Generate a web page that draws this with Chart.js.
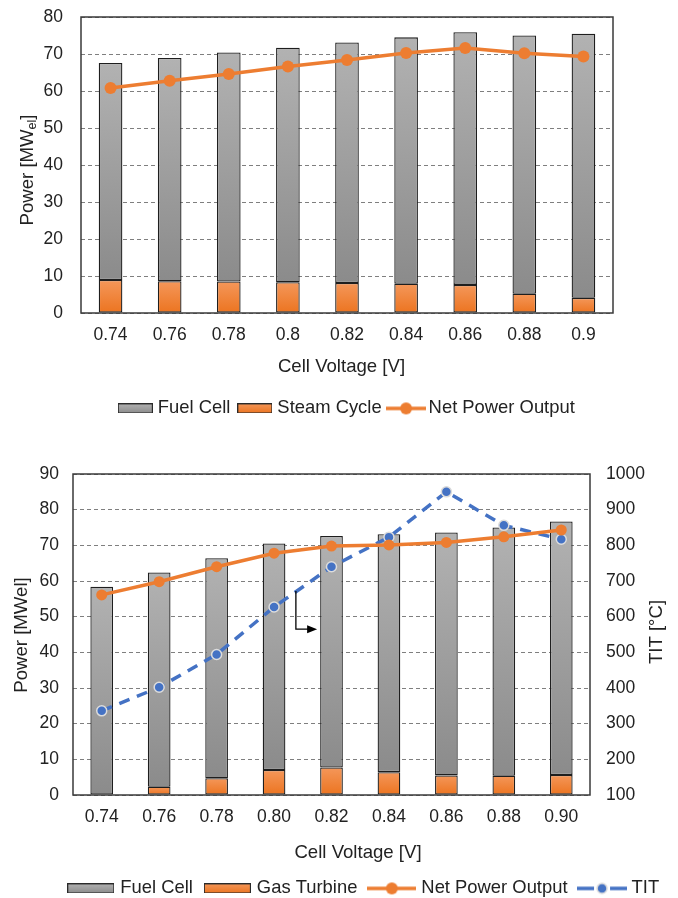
<!DOCTYPE html>
<html lang="en">
  <head>
    <meta charset="UTF-8" />
    <title>Power vs Cell Voltage</title>
    <script src="https://cdn.jsdelivr.net/npm/chart.js"></script>
    <style>
      body {
        margin: 0;
        background: #fff;
        width: 678px;
        height: 898px;
        position: relative;
        overflow: hidden;
      }
      .graph {
        position: absolute;
        left: 0;
        width: 678px;
      }
      #graphTop { top: 0; height: 430px; }
      #graphBottom { top: 455px; height: 443px; }
    </style>
  </head>
  <body>
    <div class="graph" id="graphTop"><canvas id="chartTop" width="678" height="430"></canvas></div>
    <div class="graph" id="graphBottom"><canvas id="chartBottom" width="678" height="443"></canvas></div>
    <script>
      // top chart: fuel cell + steam cycle
      const voltageTop = ["0.74", "0.76", "0.78", "0.8", "0.82", "0.84", "0.86", "0.88", "0.9"];
      const fuelCellTop = [58.7, 60.3, 61.9, 63.4, 65.0, 66.6, 68.3, 69.8, 71.4];
      const steamCycle = [8.9, 8.6, 8.5, 8.3, 8.1, 7.9, 7.6, 5.2, 4.1];
      const netPowerTop = [60.8, 62.8, 64.6, 66.6, 68.4, 70.3, 71.6, 70.2, 69.3];

      // bottom chart: fuel cell + gas turbine, TIT on right axis
      const voltageBottom = ["0.74", "0.76", "0.78", "0.80", "0.82", "0.84", "0.86", "0.88", "0.90"];
      const fuelCellBottom = [58.4, 60.1, 61.7, 63.5, 64.9, 66.7, 68.1, 69.6, 71.1];
      const gasTurbine = [0, 2.3, 4.7, 7.0, 7.7, 6.4, 5.5, 5.4, 5.6];
      const netPowerBottom = [56.1, 59.8, 64.0, 67.8, 69.8, 70.1, 70.8, 72.4, 74.3];
      const tit = [336, 402, 494, 627, 740, 823, 950, 856, 817];

      // small arrow pointing at the TIT axis (category index, MW)
      const arrowNote = { x0: 3.38, y0: 57.2, y1: 46.5, x1: 3.75 };

      const FONT = "'Liberation Sans', Arial, sans-serif";
      const TEXT = "#222";
      const ORANGE = "#ED7D31";
      const BLUE = "#4472C4";
      const GRAY_TOP = "#b2b2b2", GRAY_BOT = "#8b8b8b";
      const ORG_TOP = "#f4975a", ORG_BOT = "#ec7420";

      Chart.defaults.font.family = FONT;
      Chart.defaults.color = TEXT;
      Chart.defaults.animation = false;

      function addUp(a, b) {
        return a.map((v, i) => v + b[i]);
      }

      // vertical gradient for each bar, light at top, dark at the bottom
      function barFill(low, high, light, dark) {
        return function (c) {
          const chart = c.chart;
          if (c.type !== "data" || !chart.chartArea) return dark;
          const y = chart.scales.y;
          const top = y.getPixelForValue(high[c.dataIndex]);
          const bot = y.getPixelForValue(low[c.dataIndex]);
          const g = chart.ctx.createLinearGradient(0, top, 0, bot + 0.01);
          g.addColorStop(0, light);
          g.addColorStop(1, dark);
          return g;
        };
      }

      function legendBox(w, h, light, dark) {
        const cv = document.createElement("canvas");
        cv.width = w;
        cv.height = h;
        const c = cv.getContext("2d");
        const g = c.createLinearGradient(0, 0, 0, h);
        g.addColorStop(0, light);
        g.addColorStop(1, dark);
        c.fillStyle = g;
        c.fillRect(0, 0, w, h);
        c.strokeStyle = "#2a2a2a";
        c.lineWidth = 1;
        c.strokeRect(0.5, 0.5, w - 1, h - 1);
        return cv;
      }

      function legendLine(w, color, r, dashed) {
        const h = 14;
        const cv = document.createElement("canvas");
        cv.width = w;
        cv.height = h;
        const c = cv.getContext("2d");
        c.strokeStyle = color;
        c.lineWidth = 3.5;
        c.beginPath();
        if (dashed) {
          c.moveTo(0, h / 2);
          c.lineTo(w / 2 - 8, h / 2);
          c.moveTo(w / 2 + 8, h / 2);
          c.lineTo(w, h / 2);
        } else {
          c.moveTo(0, h / 2);
          c.lineTo(w, h / 2);
        }
        c.stroke();
        c.beginPath();
        c.arc(w / 2, h / 2, r, 0, Math.PI * 2);
        c.fillStyle = color;
        c.fill();
        if (dashed) {
          c.strokeStyle = "#dcdcdc";
          c.lineWidth = 1.5;
          c.stroke();
        }
        return cv;
      }

      function legendItems(list) {
        return () =>
          list.map((it) => ({
            text: it.text,
            pointStyle: it.img,
            datasetIndex: it.index,
            hidden: false,
            fillStyle: "rgba(0,0,0,0)",
            strokeStyle: "rgba(0,0,0,0)",
            lineWidth: 0,
            fontColor: TEXT,
          }));
      }

      // fixed legend height, and a sideways nudge of the legend row
      const legendBox2 = (h, dx) => ({
        id: "legendBox2",
        beforeInit(chart) {
          const fit = chart.legend.fit;
          chart.legend.fit = function () {
            fit.call(this);
            this.height = h;
          };
        },
        afterLayout(chart) {
          chart.legend.left += dx;
          chart.legend.right += dx;
        },
      });

      // y axes: fixed width, and no extra room asked for above the plot
      const fixWidth = (w) => (s) => {
        s.width = w;
        s.paddingTop = 0;
        s.paddingBottom = 0;
      };

      const plotBorder = {
        id: "plotBorder",
        afterDatasetsDraw(chart) {
          const a = chart.chartArea;
          const ctx = chart.ctx;
          ctx.save();
          ctx.strokeStyle = "#3a3a3a";
          ctx.lineWidth = 1.5;
          ctx.strokeRect(a.left, a.top, a.right - a.left, a.bottom - a.top);
          ctx.restore();
        },
      };

      // axis titles, drawn by hand so the subscript works
      const axisTitles = {
        id: "axisTitles",
        afterDraw(chart, args, opts) {
          const ctx = chart.ctx;
          ctx.save();
          ctx.fillStyle = TEXT;
          ctx.textBaseline = "middle";
          ctx.textAlign = "left";
          opts.items.forEach((t) => {
            const parts = t.parts;
            const sizes = parts.map((p) => (p.sub ? 12.5 : 18.6));
            let total = 0;
            parts.forEach((p, i) => {
              ctx.font = sizes[i] + "px " + FONT;
              total += ctx.measureText(p.t).width;
            });
            ctx.save();
            ctx.translate(t.x, t.y);
            if (t.rotate) ctx.rotate(-Math.PI / 2);
            let x = -total / 2;
            parts.forEach((p, i) => {
              ctx.font = sizes[i] + "px " + FONT;
              ctx.fillText(p.t, x, p.sub ? 5 : 0);
              x += ctx.measureText(p.t).width;
            });
            ctx.restore();
          });
          ctx.restore();
        },
      };

      const arrowPlugin = {
        id: "arrowNote",
        afterDatasetsDraw(chart) {
          const xs = chart.scales.x, ys = chart.scales.y;
          const x0 = xs.getPixelForValue(arrowNote.x0);
          const x1 = xs.getPixelForValue(arrowNote.x1);
          const y0 = ys.getPixelForValue(arrowNote.y0);
          const y1 = ys.getPixelForValue(arrowNote.y1);
          const ctx = chart.ctx;
          ctx.save();
          ctx.strokeStyle = "#000";
          ctx.lineWidth = 1.3;
          ctx.beginPath();
          ctx.moveTo(x0, y0);
          ctx.lineTo(x0, y1);
          ctx.lineTo(x1 - 8, y1);
          ctx.stroke();
          ctx.fillStyle = "#000";
          ctx.beginPath();
          ctx.moveTo(x1, y1);
          ctx.lineTo(x1 - 10, y1 - 4);
          ctx.lineTo(x1 - 10, y1 + 4);
          ctx.closePath();
          ctx.fill();
          ctx.restore();
        },
      };

      const yGrid = { color: "#7f7f7f", lineWidth: 1, drawTicks: false };
      const yBorder = { display: false, dash: [4, 3] };
      const legendFont = { size: 18.4 };

      // ---------- top chart ----------
      const totalTop = addUp(steamCycle, fuelCellTop);
      const zerosTop = steamCycle.map(() => 0);

      new Chart(document.getElementById("chartTop"), {
        type: "bar",
        data: {
          labels: voltageTop,
          datasets: [
            {
              label: "Steam Cycle",
              data: steamCycle,
              backgroundColor: barFill(zerosTop, steamCycle, ORG_TOP, ORG_BOT),
              borderColor: "#1e1e1e",
              borderWidth: 1.3,
              borderSkipped: false,
              barPercentage: 0.4,
              categoryPercentage: 1,
              order: 1,
            },
            {
              label: "Fuel Cell",
              data: fuelCellTop,
              backgroundColor: barFill(steamCycle, totalTop, GRAY_TOP, GRAY_BOT),
              borderColor: "#1e1e1e",
              borderWidth: 1.3,
              borderSkipped: false,
              barPercentage: 0.4,
              categoryPercentage: 1,
              order: 1,
            },
            {
              type: "line",
              label: "Net Power Output",
              data: netPowerTop,
              borderColor: ORANGE,
              backgroundColor: ORANGE,
              borderWidth: 3.5,
              pointRadius: 6,
              pointBorderWidth: 0,
              pointBackgroundColor: ORANGE,
              order: 0,
            },
          ],
        },
        options: {
          responsive: false,
          layout: { padding: { left: 0, right: 0, top: 17, bottom: 0 } },
          scales: {
            x: {
              stacked: true,
              grid: { display: false, drawTicks: false },
              border: { display: false },
              ticks: { padding: 12, font: { size: 17.5 }, color: TEXT },
              afterFit: (s) => { s.height = 75; },
            },
            y: {
              stacked: true,
              min: 0,
              max: 80,
              ticks: { stepSize: 10, padding: 18, font: { size: 17.5 }, color: TEXT },
              grid: yGrid,
              border: yBorder,
              afterFit: fixWidth(81),
            },
            y2: {
              position: "right",
              display: true,
              grid: { display: false, drawTicks: false },
              border: { display: false },
              ticks: { display: false },
              afterFit: fixWidth(65),
            },
          },
          plugins: {
            tooltip: { enabled: false },
            legend: {
              position: "bottom",
              labels: {
                usePointStyle: true,
                pointStyleWidth: 26.6,
                padding: 11.2,
                font: legendFont,
                color: TEXT,
                generateLabels: legendItems([
                  { text: "Fuel Cell", img: legendBox(35, 10, GRAY_TOP, GRAY_BOT), index: 1 },
                  { text: "Steam Cycle", img: legendBox(35, 10, ORG_TOP, ORG_BOT), index: 0 },
                  { text: "Net Power Output", img: legendLine(40, ORANGE, 6, false), index: 2 },
                ]),
              },
            },
            axisTitles: {
              items: [
                { x: 28, y: 170, rotate: true, parts: [{ t: "Power [MW" }, { t: "el", sub: true }, { t: "]" }] },
                { x: 341.5, y: 367, parts: [{ t: "Cell Voltage [V]" }] },
              ],
            },
          },
        },
        plugins: [legendBox2(42, 9.4), plotBorder, axisTitles],
      });

      // ---------- bottom chart ----------
      const totalBottom = addUp(gasTurbine, fuelCellBottom);
      const zerosBottom = gasTurbine.map(() => 0);

      new Chart(document.getElementById("chartBottom"), {
        type: "bar",
        data: {
          labels: voltageBottom,
          datasets: [
            {
              label: "Gas Turbine",
              data: gasTurbine,
              backgroundColor: barFill(zerosBottom, gasTurbine, ORG_TOP, ORG_BOT),
              borderColor: "#1e1e1e",
              borderWidth: 1.3,
              borderSkipped: false,
              barPercentage: 0.395,
              categoryPercentage: 1,
              yAxisID: "y",
              order: 1,
            },
            {
              label: "Fuel Cell",
              data: fuelCellBottom,
              backgroundColor: barFill(gasTurbine, totalBottom, GRAY_TOP, GRAY_BOT),
              borderColor: "#1e1e1e",
              borderWidth: 1.3,
              borderSkipped: false,
              barPercentage: 0.395,
              categoryPercentage: 1,
              yAxisID: "y",
              order: 1,
            },
            {
              type: "line",
              label: "Net Power Output",
              data: netPowerBottom,
              borderColor: ORANGE,
              backgroundColor: ORANGE,
              borderWidth: 3.5,
              pointRadius: 5.5,
              pointBorderWidth: 0,
              pointBackgroundColor: ORANGE,
              yAxisID: "y",
              order: 0,
            },
            {
              type: "line",
              label: "TIT",
              data: tit,
              borderColor: BLUE,
              backgroundColor: BLUE,
              borderWidth: 3.5,
              borderDash: [11, 8],
              pointRadius: 5,
              pointBorderWidth: 1.5,
              pointBorderColor: "#dcdcdc",
              pointBackgroundColor: BLUE,
              yAxisID: "y2",
              order: 0,
            },
          ],
        },
        options: {
          responsive: false,
          layout: { padding: { left: 0, right: 0, top: 19, bottom: 0 } },
          scales: {
            x: {
              stacked: true,
              grid: { display: false, drawTicks: false },
              border: { display: false },
              ticks: { padding: 11.5, font: { size: 17.5 }, color: TEXT },
              afterFit: (s) => { s.height = 70; },
            },
            y: {
              stacked: true,
              min: 0,
              max: 90,
              ticks: { stepSize: 10, padding: 14, font: { size: 17.5 }, color: TEXT },
              grid: yGrid,
              border: yBorder,
              afterFit: fixWidth(73),
            },
            y2: {
              position: "right",
              min: 100,
              max: 1000,
              ticks: {
                stepSize: 100,
                padding: 16,
                font: { size: 17.5 },
                color: TEXT,
                callback: (v) => String(v),
              },
              grid: { display: false, drawTicks: false },
              border: { display: false },
              afterFit: fixWidth(88),
            },
          },
          plugins: {
            tooltip: { enabled: false },
            legend: {
              position: "bottom",
              labels: {
                usePointStyle: true,
                pointStyleWidth: 40.6,
                padding: 14.2,
                font: legendFont,
                color: TEXT,
                generateLabels: legendItems([
                  { text: "Fuel Cell", img: legendBox(47, 10, GRAY_TOP, GRAY_BOT), index: 1 },
                  { text: "Gas Turbine", img: legendBox(47, 10, ORG_TOP, ORG_BOT), index: 0 },
                  { text: "Net Power Output", img: legendLine(49, ORANGE, 6, false), index: 2 },
                  { text: "TIT", img: legendLine(50, BLUE, 5, true), index: 3 },
                ]),
              },
            },
            axisTitles: {
              items: [
                { x: 22, y: 180, rotate: true, parts: [{ t: "Power [MWel]" }] },
                { x: 657, y: 177, rotate: true, parts: [{ t: "TIT [°C]" }] },
                { x: 358, y: 398, parts: [{ t: "Cell Voltage [V]" }] },
              ],
            },
          },
        },
        plugins: [legendBox2(33, 25.8), plotBorder, axisTitles, arrowPlugin],
      });
    </script>
  </body>
</html>
